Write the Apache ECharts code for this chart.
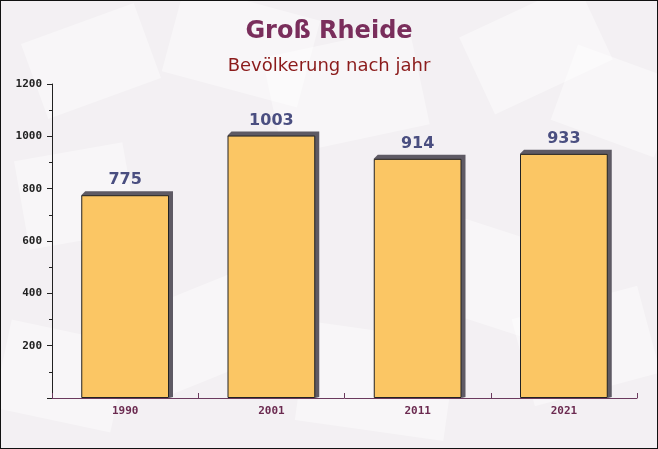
<!DOCTYPE html>
<html>
<head>
<meta charset="utf-8">
<script src="https://cdn.jsdelivr.net/npm/echarts@6/dist/echarts.min.js"></script>
<style>
  html, body { margin: 0; padding: 0; }
  #chart { width: 658px; height: 449px; box-sizing: border-box; border: 1px solid #111; background: #f3f0f3; }
</style>
</head>
<body>
<div id="chart"></div>
<script>
const years = ['1990', '2001', '2011', '2021'];
const population = [775, 1003, 914, 933];
const yTicks = [0, 200, 400, 600, 800, 1000, 1200];

const chart = echarts.init(document.getElementById('chart'));

// faint envelope-like shapes in the background
const bgShapes = [
  [30, 20, 120, 80, 20], [170, 0, 140, 90, -15], [470, 5, 130, 85, 25],
  [560, 60, 110, 80, -20], [20, 150, 110, 90, 10], [270, 40, 150, 100, 12],
  [420, 230, 150, 95, -18], [150, 280, 140, 90, 22], [520, 300, 130, 90, 15],
  [0, 330, 120, 90, -12], [300, 330, 150, 100, -8]
].map(([x, y, w, h, r]) => ({
  type: 'rect', x: x, y: y, rotation: r * Math.PI / 180, originX: w / 2, originY: h / 2,
  shape: { width: w, height: h }, silent: true, z: -10,
  style: { fill: 'rgba(255,255,255,0.4)' }
}));

const depth = 4;

chart.setOption({
  animation: false,
  graphic: bgShapes,
  title: [
    {
      text: 'Groß Rheide', left: 'center', top: 14,
      textStyle: { fontFamily: 'DejaVu Sans', fontWeight: 'bold', fontSize: 24, color: '#7a2e5c' }
    },
    {
      text: 'Bevölkerung nach jahr', left: 'center', top: 51,
      textStyle: { fontFamily: 'DejaVu Sans', fontWeight: 'normal', fontSize: 18, color: '#8b1b1b' }
    }
  ],
  grid: { left: 51, right: 20, top: 83, bottom: 50 },
  xAxis: {
    type: 'category',
    data: years,
    axisLine: { lineStyle: { color: '#6b3a5e', width: 1 } },
    axisTick: { show: true, inside: true, length: 5, lineStyle: { color: '#6b3a5e' } },
    axisLabel: { fontFamily: 'DejaVu Sans Mono', fontWeight: 'bold', fontSize: 11, color: '#6b2a50', margin: 8 }
  },
  yAxis: {
    type: 'value',
    min: yTicks[0], max: yTicks[yTicks.length - 1], interval: 200,
    axisLine: { show: true, lineStyle: { color: '#222', width: 1 } },
    axisTick: { show: true, length: 5, lineStyle: { color: '#222' } },
    minorTick: { show: true, splitNumber: 2, length: 3, lineStyle: { color: '#222' } },
    splitLine: { show: false },
    axisLabel: {
      fontFamily: 'DejaVu Sans Mono', fontWeight: 'bold', fontSize: 11, color: '#222', margin: 10,
      formatter: v => (v === 0 ? '' : String(v))
    }
  },
  series: [
    {
      // 3D side faces behind each bar
      type: 'custom',
      z: 1,
      silent: true,
      data: population.map((v, i) => [i, v]),
      renderItem: (params, api) => {
        const top = api.coord([api.value(0), api.value(1)]);
        const base = api.coord([api.value(0), 0]);
        const w = api.size([1, 0])[0] * 0.6;
        const x0 = top[0] - w / 2, x1 = top[0] + w / 2;
        return {
          type: 'polygon',
          shape: { points: [
            [x0, top[1]], [x0 + depth, top[1] - depth], [x1 + depth, top[1] - depth],
            [x1 + depth, base[1] - 1], [x1, base[1]]
          ] },
          style: { fill: '#5e5a64' }
        };
      }
    },
    {
      type: 'bar',
      z: 2,
      data: population,
      barWidth: '60%',
      itemStyle: { color: '#fbc664', borderColor: '#222', borderWidth: 1 },
      label: {
        show: true, position: 'top', distance: 7,
        fontFamily: 'DejaVu Sans', fontWeight: 'bold', fontSize: 16, color: '#4a4e80'
      }
    }
  ]
});
</script>
</body>
</html>
